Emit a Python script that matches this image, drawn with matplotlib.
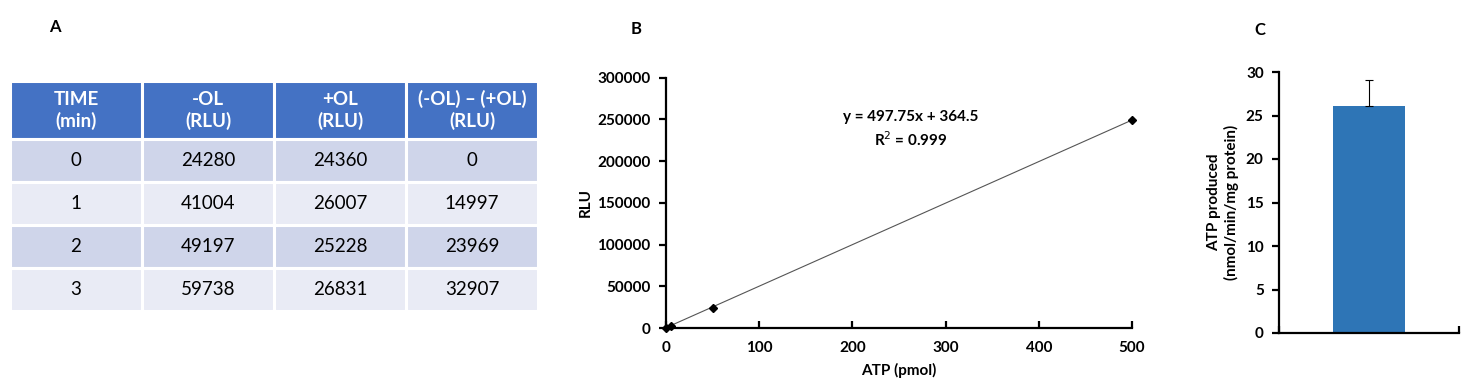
import matplotlib
matplotlib.use("Agg")
import matplotlib.pyplot as plt
from matplotlib.patches import Rectangle

plt.rcParams['font.family'] = ['Lato', 'DejaVu Sans']

# ---------------- data ----------------
table_headers = ["TIME\n(min)", "-OL\n(RLU)", "+OL\n(RLU)", "(-OL) \u2013 (+OL)\n(RLU)"]
time_min = ["0", "1", "2", "3"]
minus_ol = ["24280", "41004", "49197", "59738"]
plus_ol = ["24360", "26007", "25228", "26831"]
difference = ["0", "14997", "23969", "32907"]

atp_pmol = [0, 5, 50, 500]
rlu = [0, 2500, 24500, 248800]
slope = 497.75
intercept = 364.5
r_squared = 0.999

bar_labels = [""]
atp_produced = [26.1]
atp_err = [3.0]

# ---------------- figure ----------------
W, H = 1484, 387
fig = plt.figure(figsize=(W / 100, H / 100), dpi=100)

def px_axes(left, top, right, bottom):
    return fig.add_axes([left / W, (H - bottom) / H, (right - left) / W, (bottom - top) / H])

header_color = "#4472C4"
dark_row = "#CFD5EA"
light_row = "#E9EBF5"

# ---------------- Panel A: table ----------------
axA = px_axes(10, 81, 538, 311)
axA.set_axis_off()
n_rows = len(time_min)
header_h = 1.36
total_h = header_h + n_rows
axA.set_xlim(0, len(table_headers))
axA.set_ylim(total_h, 0)
for j, h in enumerate(table_headers):
    axA.add_patch(Rectangle((j, 0), 1, header_h, facecolor=header_color,
                            edgecolor="white", linewidth=2.2))
    axA.text(j + 0.5, header_h / 2, h, ha="center", va="center", color="white",
             fontsize=13.5, fontweight="bold", linespacing=1.25)
columns = [time_min, minus_ol, plus_ol, difference]
for i in range(n_rows):
    y0 = header_h + i
    fc = dark_row if i % 2 == 0 else light_row
    for j, col in enumerate(columns):
        axA.add_patch(Rectangle((j, y0), 1, 1, facecolor=fc,
                                edgecolor="white", linewidth=2.2))
        axA.text(j + 0.5, y0 + 0.5, col[i], ha="center", va="center",
                 color="black", fontsize=13.5)
fig.text(55 / W, 1 - 27 / H, "A", ha="center", va="center", fontsize=12, fontweight="bold")

# ---------------- Panel B: standard curve ----------------
axB = px_axes(666, 77.7, 1132, 328)
fit_x = [min(atp_pmol), max(atp_pmol)]
fit_y = [slope * x + intercept for x in fit_x]
axB.plot(fit_x, fit_y, color="#555555", linewidth=0.8, zorder=2)
axB.plot(atp_pmol, rlu, linestyle="none", marker="D", markersize=4,
         color="black", zorder=3, clip_on=False)
axB.set_xlim(0, 500)
axB.set_ylim(0, 300000)
axB.set_xticks([0, 100, 200, 300, 400, 500])
axB.set_yticks([0, 50000, 100000, 150000, 200000, 250000, 300000])
for s in ["top", "right"]:
    axB.spines[s].set_visible(False)
for s in ["left", "bottom"]:
    axB.spines[s].set_linewidth(1.6)
axB.tick_params(axis="x", direction="in", length=5, width=1.6, pad=9)
axB.tick_params(axis="y", direction="out", length=5, width=1.6, pad=6)
for lab in axB.get_xticklabels() + axB.get_yticklabels():
    lab.set_fontweight("bold")
    lab.set_fontsize(11)
axB.set_xlabel("ATP (pmol)", fontsize=11, fontweight="bold", labelpad=6)
axB.set_ylabel("RLU", fontsize=11, fontweight="bold", labelpad=3)
axB.text(0.526, 0.793, f"y = {slope}x + {intercept}\nR$^2$ = {r_squared}",
         transform=axB.transAxes, ha="center", va="center",
         fontsize=11, fontweight="bold", linespacing=1.35)
fig.text(636 / W, 1 - 29 / H, "B", ha="center", va="center", fontsize=12, fontweight="bold")

# ---------------- Panel C: bar ----------------
axC = px_axes(1279, 72, 1459, 333)
xpos = list(range(len(atp_produced)))
axC.bar(xpos, atp_produced, width=0.405, color="#2E75B6", zorder=2)
axC.errorbar(xpos, atp_produced, yerr=[[0] * len(atp_err), atp_err], fmt="none",
             ecolor="black", elinewidth=0.8, capsize=3, capthick=0.8, zorder=3)
axC.set_xlim(-0.5, 0.5)
axC.set_ylim(0, 30)
axC.set_yticks([0, 5, 10, 15, 20, 25, 30])
axC.set_xticks([-0.5, 0.5])
axC.set_xticklabels(["", ""])
for s in ["top", "right"]:
    axC.spines[s].set_visible(False)
for s in ["left", "bottom"]:
    axC.spines[s].set_linewidth(1.6)
axC.tick_params(axis="x", direction="in", length=5, width=1.6)
axC.tick_params(axis="y", direction="out", length=5, width=1.6, pad=6)
for lab in axC.get_yticklabels():
    lab.set_fontweight("bold")
    lab.set_fontsize(11)
axC.set_ylabel("ATP produced\n(nmol/min/mg protein)", fontsize=11,
               fontweight="bold", labelpad=5, linespacing=1.25)
fig.text(1260 / W, 1 - 30 / H, "C", ha="center", va="center", fontsize=12, fontweight="bold")

fig.savefig("out.png", dpi=100)
